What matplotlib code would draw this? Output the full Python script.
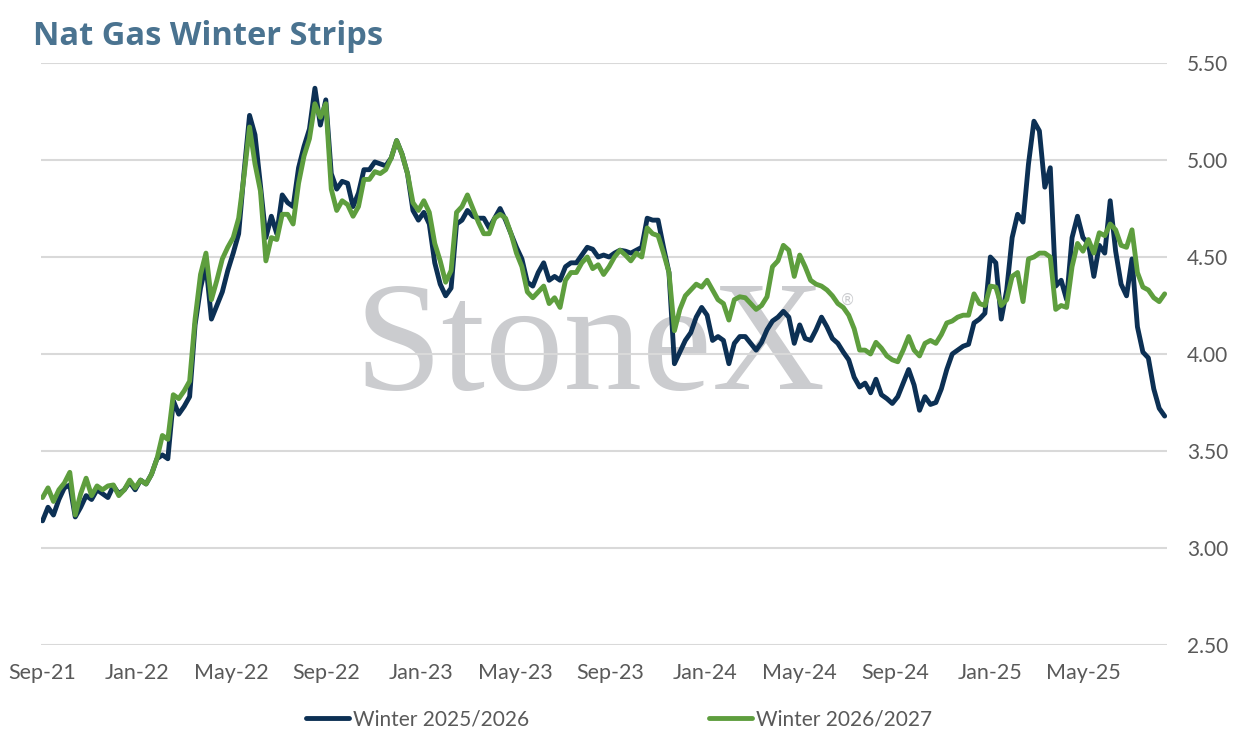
import matplotlib
matplotlib.use("Agg")
import matplotlib.pyplot as plt
import matplotlib.dates as mdates
import matplotlib.ticker as mticker
import pandas as pd
import numpy as np

plt.rcParams['font.family'] = ['Lato', 'DejaVu Sans']

title = "Nat Gas Winter Strips"
series_names = ["Winter 2025/2026", "Winter 2026/2027"]
start_date = "2021-09-01"   # weekly observations

winter_2526 = [
    3.14, 3.21, 3.17, 3.25, 3.31, 3.325, 3.16, 3.21, 3.27, 3.25,
    3.30, 3.28, 3.26, 3.32, 3.28, 3.30, 3.34, 3.30, 3.35, 3.33,
    3.38, 3.46, 3.48, 3.46, 3.76, 3.69, 3.73, 3.78, 4.15, 4.34,
    4.46, 4.18, 4.25, 4.32, 4.43, 4.52, 4.62, 4.94, 5.23, 5.13,
    4.87, 4.60, 4.71, 4.62, 4.82, 4.78, 4.76, 4.96, 5.07, 5.16,
    5.37, 5.18, 5.31, 4.93, 4.85, 4.89, 4.88, 4.76, 4.83, 4.95,
    4.95, 4.99, 4.98, 4.97, 5.01, 5.10, 5.03, 4.93, 4.74, 4.69,
    4.73, 4.67, 4.47, 4.36, 4.30, 4.34, 4.67, 4.69, 4.74, 4.71,
    4.70, 4.70, 4.65, 4.70, 4.75, 4.69, 4.62, 4.55, 4.49, 4.37,
    4.35, 4.42, 4.47, 4.38, 4.40, 4.38, 4.45, 4.47, 4.47, 4.51,
    4.55, 4.54, 4.50, 4.51, 4.50, 4.52, 4.535, 4.53, 4.52, 4.535,
    4.55, 4.70, 4.69, 4.69, 4.55, 4.42, 3.95, 4.01, 4.07, 4.11,
    4.19, 4.24, 4.20, 4.07, 4.09, 4.07, 3.95, 4.055, 4.09, 4.09,
    4.055, 4.02, 4.06, 4.125, 4.17, 4.19, 4.22, 4.19, 4.055, 4.15,
    4.08, 4.07, 4.125, 4.19, 4.14, 4.08, 4.055, 4.01, 3.97, 3.88,
    3.83, 3.85, 3.80, 3.87, 3.79, 3.77, 3.745, 3.78, 3.85, 3.92,
    3.84, 3.71, 3.78, 3.74, 3.75, 3.82, 3.92, 4.00, 4.02, 4.04,
    4.05, 4.16, 4.18, 4.21, 4.50, 4.47, 4.18, 4.33, 4.60, 4.72,
    4.68, 4.98, 5.20, 5.15, 4.86, 4.96, 4.35, 4.38, 4.28, 4.60,
    4.71, 4.60, 4.57, 4.40, 4.56, 4.52, 4.79, 4.53, 4.36, 4.30,
    4.49, 4.14, 4.01, 3.98, 3.82, 3.72, 3.68,
]

winter_2627 = [
    3.26, 3.31, 3.24, 3.30, 3.335, 3.39, 3.17, 3.28, 3.36, 3.27,
    3.32, 3.30, 3.32, 3.325, 3.27, 3.30, 3.35, 3.31, 3.35, 3.33,
    3.38, 3.46, 3.58, 3.56, 3.79, 3.77, 3.81, 3.86, 4.18, 4.41,
    4.52, 4.28, 4.38, 4.49, 4.55, 4.60, 4.70, 4.92, 5.17, 4.98,
    4.84, 4.48, 4.60, 4.59, 4.72, 4.72, 4.67, 4.88, 5.02, 5.11,
    5.29, 5.22, 5.29, 4.85, 4.74, 4.79, 4.77, 4.71, 4.76, 4.90,
    4.90, 4.94, 4.93, 4.95, 5.01, 5.10, 5.03, 4.93, 4.78, 4.74,
    4.79, 4.73, 4.57, 4.48, 4.37, 4.43, 4.73, 4.76, 4.82, 4.75,
    4.68, 4.62, 4.62, 4.70, 4.72, 4.70, 4.62, 4.52, 4.45, 4.32,
    4.29, 4.32, 4.35, 4.26, 4.29, 4.24, 4.38, 4.42, 4.42, 4.47,
    4.50, 4.44, 4.46, 4.41, 4.45, 4.50, 4.535, 4.51, 4.48, 4.52,
    4.50, 4.65, 4.62, 4.61, 4.52, 4.42, 4.12, 4.23, 4.30, 4.33,
    4.36, 4.345, 4.38, 4.33, 4.28, 4.26, 4.175, 4.28, 4.295, 4.29,
    4.26, 4.23, 4.25, 4.295, 4.45, 4.48, 4.56, 4.535, 4.40, 4.51,
    4.45, 4.38, 4.36, 4.35, 4.33, 4.30, 4.26, 4.24, 4.20, 4.13,
    4.02, 4.02, 4.00, 4.06, 4.03, 3.99, 3.97, 3.96, 4.02, 4.09,
    4.02, 3.99, 4.055, 4.07, 4.055, 4.10, 4.16, 4.17, 4.19, 4.20,
    4.20, 4.31, 4.26, 4.25, 4.35, 4.345, 4.25, 4.28, 4.40, 4.42,
    4.27, 4.49, 4.50, 4.52, 4.52, 4.50, 4.23, 4.25, 4.24, 4.45,
    4.57, 4.53, 4.59, 4.52, 4.625, 4.61, 4.67, 4.64, 4.56, 4.55,
    4.64, 4.42, 4.345, 4.33, 4.29, 4.27, 4.31,
]

tick_dates = ["2021-09-01", "2022-01-01", "2022-05-01", "2022-09-01",
              "2023-01-01", "2023-05-01", "2023-09-01", "2024-01-01",
              "2024-05-01", "2024-09-01", "2025-01-01", "2025-05-01"]
y_ticks = [2.50, 3.00, 3.50, 4.00, 4.50, 5.00, 5.50]

dates = pd.date_range(start_date, periods=len(winter_2526), freq="7D")

navy = "#0C3054"
green = "#5E9E3E"
grid_c = "#D9D9D9"
text_c = "#595959"

fig = plt.figure(figsize=(12.38, 7.38), dpi=100)
ax = fig.add_axes([41/1238, 1-645/738, (1167-41)/1238, (645-63)/738])

ax.plot(dates, winter_2526, color=navy, lw=3.5, zorder=3, label=series_names[0],
        solid_joinstyle="round", solid_capstyle="round")
ax.plot(dates, winter_2627, color=green, lw=3.5, zorder=4, label=series_names[1],
        solid_joinstyle="round", solid_capstyle="round")

ax.set_ylim(2.5, 5.5)
ax.set_xlim(dates[0] - pd.Timedelta(days=2), dates[-1] + pd.Timedelta(days=3))
ax.set_yticks(y_ticks)
ax.yaxis.set_major_formatter(mticker.FormatStrFormatter("%.2f"))
ax.yaxis.tick_right()
ax.set_xticks(pd.to_datetime(tick_dates))
ax.xaxis.set_major_formatter(mdates.DateFormatter("%b-%y"))
ax.tick_params(axis="both", length=0, colors=text_c)
ax.tick_params(axis="y", pad=14.5, labelsize=15)
ax.tick_params(axis="x", pad=13, labelsize=15.5)
ax.grid(axis="y", color=grid_c, lw=1.5, zorder=1)
ax.set_axisbelow(True)
for s in ax.spines.values():
    s.set_visible(False)

# watermark
ax.text(0.4875, 0.505, "StoneX", transform=ax.transAxes, ha="center", va="center",
        fontsize=113, family="Liberation Serif", color="#CBCCCF", zorder=0.5)
ax.text(0.716, 0.592, "\u00ae", transform=ax.transAxes, ha="center", va="center",
        fontsize=11, family="DejaVu Sans", color="#CBCCCF", zorder=0.5)

fig.text(33/1238, 1-45/738, title, ha="left", va="baseline", fontsize=23.5,
         fontweight="bold", family=["Open Sans", "DejaVu Sans"], color="#4A7390")

fig.legend(loc="center", bbox_to_anchor=(0.5, 1-719/738), ncol=2, frameon=False,
           fontsize=15, labelcolor=text_c, handlelength=2.07, handletextpad=0.2,
           columnspacing=8.6)

fig.savefig("out.png", dpi=100)
